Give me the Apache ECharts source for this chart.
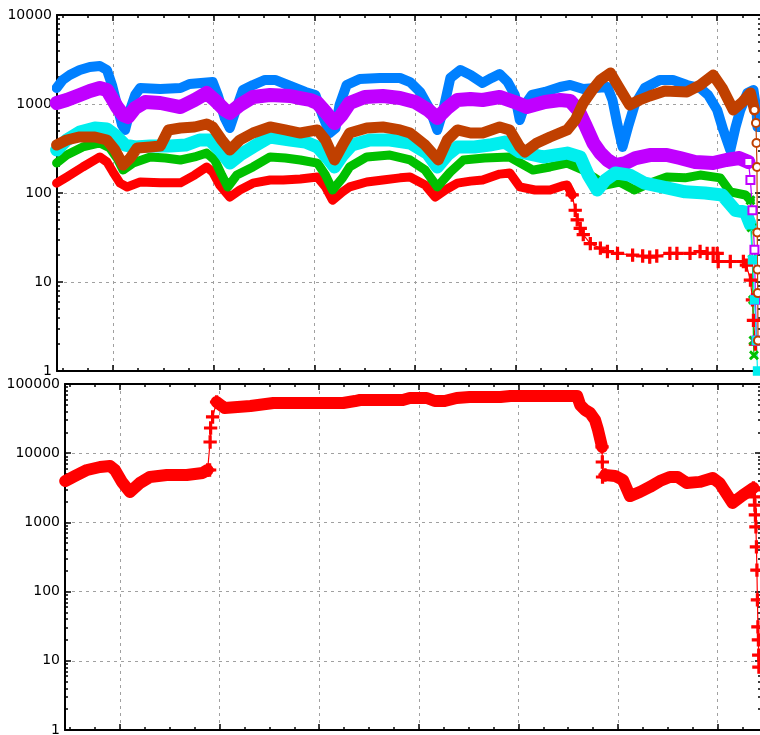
<!DOCTYPE html>
<html><head><meta charset="utf-8">
<script src="https://cdn.jsdelivr.net/npm/echarts@6/dist/echarts.min.js"></script>
<style>html,body{margin:0;padding:0;background:#fff}#c{width:760px;height:735px}</style>
</head><body><div id="c"></div>
<script>
// ---------- top panel data ([x, value]) ----------
const redTop = [[-56,129],[-46,151],[-30,196],[-18,235],[-13,254],[-6,223],[0,172],[7,129],[14,117],[27,133],[47,130],[67,130],[81,159],[93,196],[99,172],[106,123],[116,90],[126,108],[139,129],[156,140],[169,140],[186,144],[203,151],[211,117],[218,83],[228,103],[235,117],[252,133],[268,140],[285,148],[295,151],[310,123],[320,90],[330,108],[342,129],[355,136],[367,140],[384,163],[394,168],[404,117],[419,108],[434,108],[446,120],[451,123],[456,95]];
const redTopTrail = [[456,95],[459,64],[461,50],[464,40],[467,34],[474,27],[484,24],[491,22],[501,21],[516,20],[526,19.6],[533,19],[540,19.6],[553,21],[560,21],[573,21],[583,22],[590,21],[596,21],[600,21],[601,17],[613,17],[626,17],[629,15.5],[633,10.5],[635,6.3],[636,3.7],[638,2.0]];
const greenTop = [[-56,217],[-46,267],[-30,329],[-13,365],[-3,320],[4,247],[10,181],[20,217],[37,254],[52,247],[67,235],[81,254],[93,281],[101,235],[108,159],[114,117],[123,159],[139,196],[156,254],[171,247],[186,235],[203,217],[211,159],[218,108],[228,148],[235,196],[252,254],[275,267],[295,235],[310,181],[322,117],[335,172],[348,235],[369,247],[394,254],[417,181],[434,196],[451,217],[467,181],[477,151],[489,123],[503,133],[518,108],[533,129],[550,151],[568,148],[583,159],[603,148],[613,103],[628,95],[633,83]];
const greenTopTrail = [[633,83],[634,41],[635,18],[635.5,6.3],[636,2.2],[636.5,1.5]];
const blueTop = [[-56,1512],[-50,1862],[-43,2118],[-33,2410],[-23,2606],[-13,2674],[-6,2410],[-1,1634],[4,975],[9,581],[12,511],[17,857],[22,1263],[27,1512],[47,1476],[67,1512],[76,1678],[99,1766],[104,1263],[111,697],[116,537],[122,857],[129,1437],[139,1634],[151,1862],[161,1862],[176,1593],[191,1365],[201,1263],[208,752],[215,472],[221,537],[225,975],[232,1634],[245,1910],[265,1960],[285,1960],[295,1766],[305,1365],[315,857],[322,511],[328,857],[335,1960],[345,2410],[355,2118],[367,1722],[376,1960],[384,2172],[392,1766],[399,1263],[404,661],[409,975],[416,1263],[429,1365],[444,1552],[454,1634],[467,1476],[479,1512],[491,1552],[496,1109],[501,581],[506,329],[512,581],[518,975],[528,1512],[543,1862],[556,1862],[570,1634],[583,1512],[591,1263],[600,857],[606,511],[613,304],[618,537],[623,857],[630,1330],[636,1437],[639,857],[640,552]];
const purpleTop = [[-56,1026],[-46,1109],[-33,1263],[-23,1400],[-13,1512],[-6,1437],[0,1109],[4,925],[10,752],[15,714],[22,902],[32,1052],[47,1026],[67,925],[81,1109],[93,1330],[101,1109],[111,857],[116,793],[126,975],[139,1199],[156,1263],[176,1230],[186,1167],[196,1109],[203,1026],[211,813],[220,612],[227,752],[235,1026],[250,1199],[268,1230],[285,1167],[300,1052],[313,857],[322,697],[332,902],[342,1109],[355,1138],[367,1109],[384,1199],[399,1052],[411,925],[429,1052],[444,1109],[454,1081],[462,857],[469,581],[477,365],[484,281],[491,235],[499,206],[509,217],[519,247],[533,267],[550,267],[563,247],[578,223],[596,217],[609,235],[622,247],[631,223]];
const purpleTopTrail = [[631,223],[633,140],[635,64],[637,23],[638,6.3],[639,2.2]];
const cyanTop = [[-56,304],[-46,394],[-33,484],[-18,537],[-6,524],[2,449],[12,346],[22,329],[37,337],[57,337],[72,346],[86,394],[96,394],[106,304],[116,217],[126,267],[139,329],[156,426],[176,394],[191,374],[203,329],[213,247],[220,196],[228,267],[237,346],[255,394],[275,394],[295,365],[312,281],[322,196],[332,267],[342,329],[359,329],[374,346],[389,374],[404,289],[427,254],[451,281],[464,254],[472,159],[481,108],[489,140],[499,168],[513,159],[528,129],[550,114],[568,103],[588,100],[605,95],[618,64],[628,61],[633,44]];
const cyanTopTrail = [[633,44],[635,17.7],[637,6.3],[639,2.2],[640,1]];
const brownTop = [[-56,346],[-46,394],[-33,426],[-18,426],[-6,394],[2,304],[10,206],[17,247],[24,320],[37,329],[47,337],[50,394],[55,511],[67,537],[81,552],[93,596],[99,552],[108,394],[116,304],[126,394],[139,472],[156,552],[171,511],[186,472],[203,511],[211,394],[220,235],[228,346],[235,472],[252,537],[268,552],[285,511],[295,472],[310,346],[323,235],[332,394],[342,511],[355,472],[367,472],[384,552],[394,511],[404,329],[409,289],[421,365],[434,426],[451,511],[459,661],[467,1026],[476,1437],[484,1862],[494,2230],[501,1634],[513,975],[523,1109],[533,1230],[548,1400],[570,1365],[583,1634],[596,2118],[605,1512],[616,857],[625,1052],[633,1330],[637,857]];
const brownTopTrail = [[637,857],[638.5,612],[639,365],[639.5,196],[639.8,36],[640,13.8],[640.3,7.5],[640.5,2.2]];

// ---------- bottom panel data ----------
const redBotA = [[-55,3960],[-45,4690],[-33,5720],[-20,6320],[-10,6530],[-5,5720],[2,3840],[10,2750],[20,3710],[30,4530],[47,4840],[67,4840],[83,5180],[88,5720]];
const redBotJump = [[88,5720],[90,5720],[90.5,14520],[91,23140],[93,33370],[97,54960]];
const redBotB = [[97,54960],[105,44980],[131,48100],[154,53130],[224,53130],[236,56780],[241,58720],[284,58720],[291,62780],[308,62780],[316,56780],[326,56780],[338,62780],[351,64880],[382,64880],[392,67100],[415,67100],[459,67100],[462,49770],[467,42080],[472,38110],[477,30200],[480,21630],[484,12300]];
const redBotDrop = [[484,12300],[484.3,7460],[484.5,4530],[487,4840]];
const redBotC = [[487,4840],[497,4690],[505,4100],[512,2400],[522,2750],[532,3250],[542,3960],[552,4530],[560,4530],[569,3710],[582,3850],[595,4390],[602,3700],[615,1910],[625,2450],[636,3150]];
const redBotTrail = [[636,3150],[636.5,2940],[637,2330],[637.5,1780],[638,1280],[638.5,859],[639,442],[639.5,205],[640,76],[640.5,31],[641,20],[641.3,12.1],[641.5,8.1]];

const RED='#ff0000', GREEN='#00c000', BLUE='#0080ff', PURPLE='#c000ff', CYAN='#00eeee', BROWN='#c04000';
const GRID_COLOR='#a0a0a0';
const PLUS='path://M4.2,0H5.8V4.2H10V5.8H5.8V10H4.2V5.8H0V4.2H4.2Z';

function xAxes(g,min,max){
  const tk=(len)=>({show:true,inside:true,length:len,lineStyle:{color:'#000',width:1.5}});
  const base={gridIndex:g,type:'value',min:min,max:max,axisLabel:{show:false},splitLine:{show:false},axisLine:{show:false,onZero:false}};
  return [
    Object.assign({},base,{position:'bottom',minInterval:100,maxInterval:100,axisLine:{show:true,onZero:false,lineStyle:{color:'#000',width:2}},axisTick:tk(6),splitLine:{show:true,lineStyle:{color:GRID_COLOR,type:[3,4],width:1}}}),
    Object.assign({},base,{position:'bottom',minInterval:25,maxInterval:25,axisTick:tk(3)}),
    Object.assign({},base,{position:'top',minInterval:100,maxInterval:100,axisLine:{show:true,onZero:false,lineStyle:{color:'#000',width:2}},axisTick:tk(6)}),
    Object.assign({},base,{position:'top',minInterval:25,maxInterval:25,axisTick:tk(3)})
  ];
}
function yAxes(g,max){
  const tk={show:true,inside:true,length:6,lineStyle:{color:'#000',width:1.5}};
  const mt={show:true,splitNumber:9,length:3,lineStyle:{color:'#000',width:1.5}};
  return [
    {gridIndex:g,type:'log',logBase:10,min:1,max:max,position:'left',
     axisLine:{show:true,onZero:false,lineStyle:{color:'#000',width:2}},axisTick:tk,minorTick:mt,
     axisLabel:{show:true,margin:5,color:'#000',fontFamily:'DejaVu Sans',fontSize:14,formatter:v=>String(Math.round(v))},
     splitLine:{show:true,lineStyle:{color:GRID_COLOR,type:[3,4],width:1}}},
    {gridIndex:g,type:'log',logBase:10,min:1,max:max,position:'right',
     axisLine:{show:true,onZero:false,lineStyle:{color:'#000',width:2}},axisTick:tk,minorTick:mt,
     axisLabel:{show:false},splitLine:{show:false}}
  ];
}
function band(g,data,color,w){
  return {type:'line',xAxisIndex:g*4,yAxisIndex:g*2,data:data,symbol:'none',
    lineStyle:{color:color,width:w,cap:'round',join:'round'},silent:true};
}
function trail(g,data,color,sym,size,rot){
  return {type:'line',xAxisIndex:g*4,yAxisIndex:g*2,data:data,symbol:sym,symbolSize:size,symbolRotate:rot||0,showSymbol:true,
    lineStyle:{color:color,width:1.2},itemStyle:{color:color,borderColor:color,borderWidth:1.3},silent:true};
}

const chart=echarts.init(document.getElementById('c'),null,{renderer:'canvas'});
chart.setOption({
  animation:false,
  backgroundColor:'#fff',
  grid:[
    {left:57,top:15,width:704,height:356,containLabel:false,outerBoundsMode:'none'},
    {left:65,top:384,width:696,height:346,containLabel:false,outerBoundsMode:'none'}
  ],
  xAxis:[].concat(xAxes(0,-55.6,643.5),xAxes(1,-55.2,643.6)),
  yAxis:[].concat(yAxes(0,10000),yAxes(1,100000)),
  series:[
    band(0,redTop,RED,9), trail(0,redTopTrail,RED,PLUS,12),
    band(0,greenTop,GREEN,9), trail(0,greenTopTrail,GREEN,PLUS,10,45),
    band(0,blueTop,BLUE,10),
    band(0,purpleTop,PURPLE,14), trail(0,purpleTopTrail,PURPLE,'emptyRect',8),
    band(0,cyanTop,CYAN,13), trail(0,cyanTopTrail,CYAN,'rect',8),
    band(0,brownTop,BROWN,11), trail(0,brownTopTrail,BROWN,'emptyCircle',8),
    band(1,redBotA,RED,12), trail(1,redBotJump,RED,PLUS,12),
    band(1,redBotB,RED,12), trail(1,redBotDrop,RED,PLUS,12),
    band(1,redBotC,RED,12), trail(1,redBotTrail,RED,PLUS,12)
  ]
});
</script></body></html>
